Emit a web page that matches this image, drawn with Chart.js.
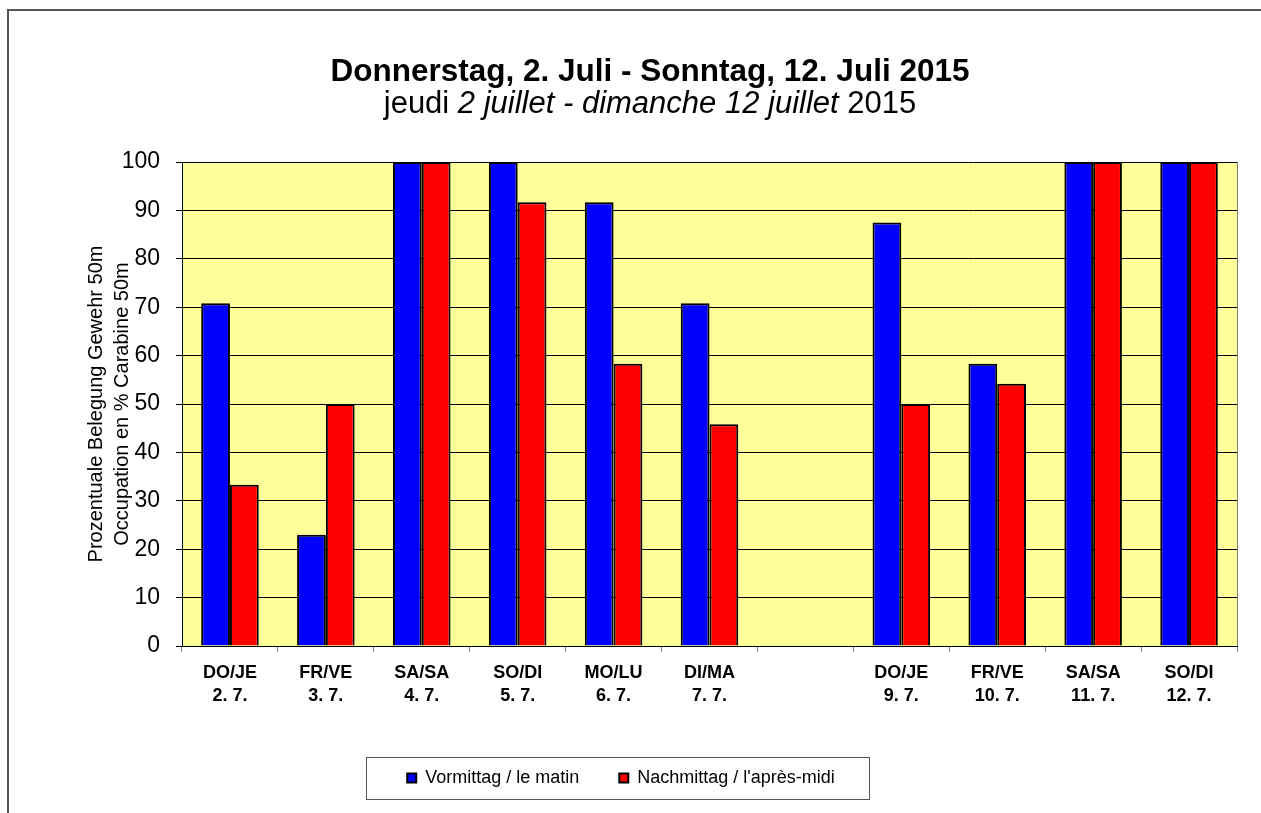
<!DOCTYPE html>
<html>
<head>
<meta charset="utf-8">
<title>Belegung Gewehr 50m</title>
<script src="https://cdn.jsdelivr.net/npm/chart.js@4.4.1/dist/chart.umd.min.js"></script>
<style>
  html, body { margin: 0; padding: 0; background: #fff; }
  #wrap { width: 1261px; height: 813px; position: relative; }
</style>
</head>
<body>
<div id="wrap"><canvas id="chart" width="1261" height="813"></canvas></div>
<script>
// data
const categories = [
  ['DO/JE', '2. 7.'], ['FR/VE', '3. 7.'], ['SA/SA', '4. 7.'], ['SO/DI', '5. 7.'],
  ['MO/LU', '6. 7.'], ['DI/MA', '7. 7.'], ['', ''],
  ['DO/JE', '9. 7.'], ['FR/VE', '10. 7.'], ['SA/SA', '11. 7.'], ['SO/DI', '12. 7.']
];
const morning   = [70.8, 23, 100, 100, 91.7, 70.8, null, 87.5, 58.3, 100, 100];
const afternoon = [33.3, 50, 100, 91.7, 58.3, 45.8, null, 50, 54.2, 100, 100];
const seriesNames = ['Vormittag / le matin', "Nachmittag / l'après-midi"];
const yMin = 0, yMax = 100, yStep = 10;

const titleDe = 'Donnerstag, 2. Juli - Sonntag, 12. Juli 2015';
// [text, italic]
const titleFr = [['jeudi ', false], ['2 juillet - dimanche 12 juillet', true], [' 2015', false]];
const yTitle = ['Prozentuale Belegung Gewehr 50m', 'Occupation en % Carabine 50m'];

const FONT = '"Liberation Sans", Arial, sans-serif';

const decor = {
  id: 'decor',
  beforeDraw(chart) {
    const ctx = chart.ctx, a = chart.chartArea;
    ctx.save();
    ctx.fillStyle = '#fff';
    ctx.fillRect(0, 0, chart.width, chart.height);
    // outer frame (top + left visible)
    ctx.strokeStyle = '#555';
    ctx.lineWidth = 2;
    ctx.beginPath();
    ctx.moveTo(8, chart.height);
    ctx.lineTo(8, 10);
    ctx.lineTo(chart.width, 10);
    ctx.stroke();
    // plot area
    ctx.fillStyle = '#FFFF99';
    ctx.fillRect(a.left, a.top, a.right - a.left, a.bottom - a.top);
    ctx.restore();
  },
  afterDraw(chart) {
    const ctx = chart.ctx, a = chart.chartArea;
    ctx.save();
    // right border of plot area
    ctx.strokeStyle = '#808080';
    ctx.lineWidth = 1;
    ctx.beginPath();
    ctx.moveTo(a.right + 0.5, a.top);
    ctx.lineTo(a.right + 0.5, a.bottom);
    ctx.stroke();

    // titles
    const cx = 650;
    ctx.fillStyle = '#000';
    ctx.textBaseline = 'alphabetic';
    ctx.textAlign = 'left';
    ctx.font = 'bold 31.5px ' + FONT;
    let w = ctx.measureText(titleDe).width;
    ctx.fillText(titleDe, cx - w / 2, 81);

    const fonts = titleFr.map(p => (p[1] ? 'italic ' : '') + '31px ' + FONT);
    let total = 0;
    const widths = titleFr.map((p, i) => { ctx.font = fonts[i]; const m = ctx.measureText(p[0]).width; total += m; return m; });
    let x = cx - total / 2;
    titleFr.forEach((p, i) => { ctx.font = fonts[i]; ctx.fillText(p[0], x, 113); x += widths[i]; });

    // legend frame
    const boxes = chart.legend.legendHitBoxes;
    if (boxes && boxes.length) {
      const l = Math.min(...boxes.map(b => b.left));
      const r = Math.max(...boxes.map(b => b.left + b.width));
      const cy = boxes[0].top + boxes[0].height / 2;
      ctx.strokeStyle = '#555';
      ctx.lineWidth = 1;
      ctx.strokeRect(Math.round(l - 41) + 0.5, Math.round(cy - 21) + 0.5, Math.round(r - l + 75), 42);
    }
    ctx.restore();
  }
};

new Chart(document.getElementById('chart'), {
  type: 'bar',
  data: {
    labels: categories,
    datasets: [
      { label: seriesNames[0], data: morning, backgroundColor: '#0000FF', borderColor: '#000', borderWidth: 2 },
      { label: seriesNames[1], data: afternoon, backgroundColor: '#FF0000', borderColor: '#000', borderWidth: 2 }
    ]
  },
  options: {
    responsive: false,
    animation: false,
    devicePixelRatio: 1,
    layout: { padding: { top: 162, left: 5, right: 24, bottom: 24 } },
    datasets: { bar: { categoryPercentage: 0.6, barPercentage: 1 } },
    plugins: {
      title: { display: false },
      tooltip: { enabled: false },
      legend: {
        position: 'bottom',
        maxHeight: 60,
        labels: {
          font: { family: FONT, size: 18 },
          color: '#000',
          boxWidth: 9,
          boxHeight: 9,
          padding: 40
        }
      }
    },
    scales: {
      x: {
        afterFit: s => { s.height = 83; },
        grid: { display: true, drawOnChartArea: false, drawTicks: true, tickLength: 6, color: '#808080', offset: true },
        border: { display: true, color: '#000', width: 1 },
        ticks: {
          autoSkip: false, maxRotation: 0, minRotation: 0, padding: 10,
          color: '#000',
          font: { family: FONT, size: 18, weight: 'bold', lineHeight: 1.25 }
        }
      },
      y: {
        min: yMin, max: yMax,
        afterFit: s => { s.width = 177; },
        grid: { color: '#000', lineWidth: 1, tickLength: 6, drawTicks: true },
        border: { display: true, color: '#000', width: 1 },
        ticks: {
          stepSize: yStep, padding: 16, color: '#000',
          font: { family: FONT, size: 23 }
        },
        title: {
          display: true, text: yTitle, color: '#000', padding: { top: 78, bottom: 0 },
          font: { family: FONT, size: 20, lineHeight: 1.3 }
        }
      }
    }
  },
  plugins: [decor]
});
</script>
</body>
</html>
